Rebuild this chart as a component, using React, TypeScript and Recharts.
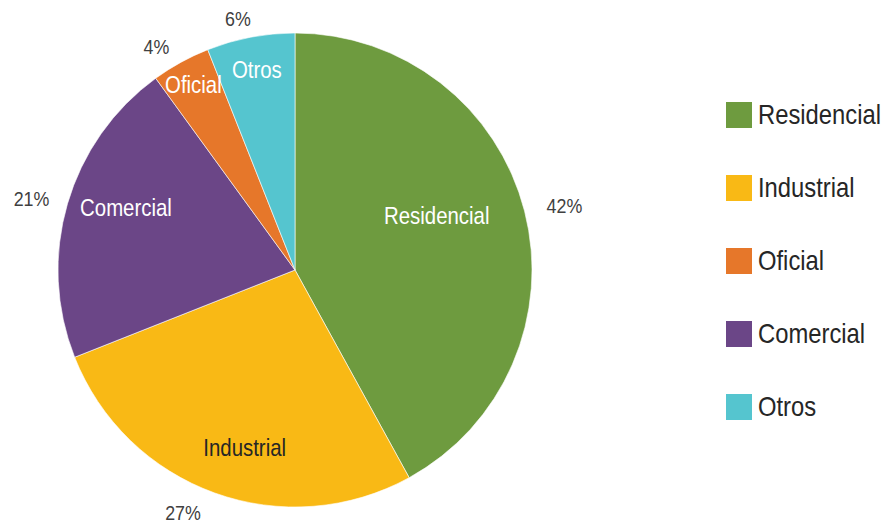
import React from 'react';
import { PieChart, Pie, Cell, Legend } from 'recharts';

const categories = ['Residencial', 'Industrial', 'Comercial', 'Oficial', 'Otros'];
const shares = [42, 27, 21, 4, 6];
const colors = ['#6E9B3F', '#F9B915', '#6B4687', '#E6772A', '#55C5CF'];
const legendOrder = ['Residencial', 'Industrial', 'Oficial', 'Comercial', 'Otros'];

// label placement tweaks per slice (radius fraction, angle shift in degrees)
const insideFactor = [0.64, 0.78, 0.76, 0.89, 0.86];
const insideShift = [6.5, 4, -4, 0, 0];
const outsideShift = [-1, -5, 1, 3, 2];
const outsidePad = [40, 30, 36, 26, 21];
const insideColor = ['#fff', '#262626', '#fff', '#fff', '#fff'];

const data = categories.map((name, i) => ({ name, value: shares[i] }));

const FONT = '"Liberation Sans", Arial, sans-serif';
const NARROW = 0.85;
const RAD = Math.PI / 180;

const NarrowText = ({ x, y, fill, size, children }: any) => (
  <text
    transform={`translate(${x},${y}) scale(${NARROW},1)`}
    x={0}
    y={0}
    fill={fill}
    textAnchor="middle"
    dominantBaseline="central"
    fontFamily={FONT}
    fontSize={size}
  >
    {children}
  </text>
);

const renderLabel = (props: any) => {
  const { cx, cy, midAngle, outerRadius, index, value } = props;
  const ai = (midAngle + insideShift[index]) * RAD;
  const ao = (midAngle + outsideShift[index]) * RAD;
  const ri = outerRadius * insideFactor[index];
  const ro = outerRadius + outsidePad[index];
  return (
    <g>
      <NarrowText x={cx + ri * Math.cos(ai)} y={cy - ri * Math.sin(ai)} fill={insideColor[index]} size={24}>
        {categories[index]}
      </NarrowText>
      <NarrowText x={cx + ro * Math.cos(ao)} y={cy - ro * Math.sin(ao)} fill="#404040" size={21}>
        {value}%
      </NarrowText>
    </g>
  );
};

const CustomLegend = () => (
  <div style={{ fontFamily: FONT }}>
    {legendOrder.map((name) => (
      <div key={name} style={{ display: 'flex', alignItems: 'center', height: 73 }}>
        <div style={{ width: 26, height: 26, background: colors[categories.indexOf(name)], marginRight: 6, flexShrink: 0 }} />
        <span
          style={{
            fontSize: 28,
            color: '#262626',
            display: 'inline-block',
            transform: `scaleX(${NARROW})`,
            transformOrigin: 'left center',
            whiteSpace: 'nowrap',
          }}
        >
          {name}
        </span>
      </div>
    ))}
  </div>
);

export default function App() {
  return (
    <div style={{ position: 'absolute', left: 0, top: 0, background: '#fff' }}>
      <PieChart width={887} height={526} margin={{ top: 0, right: 0, bottom: 0, left: 0 }}>
        <Pie
          data={data}
          dataKey="value"
          nameKey="name"
          cx={295}
          cy={270}
          outerRadius={237}
          startAngle={90}
          endAngle={-270}
          stroke="#fff"
          strokeWidth={0.6}
          label={renderLabel}
          labelLine={false}
          isAnimationActive={false}
        >
          {data.map((d, i) => (
            <Cell key={d.name} fill={colors[i]} />
          ))}
        </Pie>
        <Legend
          layout="vertical"
          content={() => <CustomLegend />}
          wrapperStyle={{ left: 726, top: 78, width: 170 }}
        />
      </PieChart>
    </div>
  );
}
